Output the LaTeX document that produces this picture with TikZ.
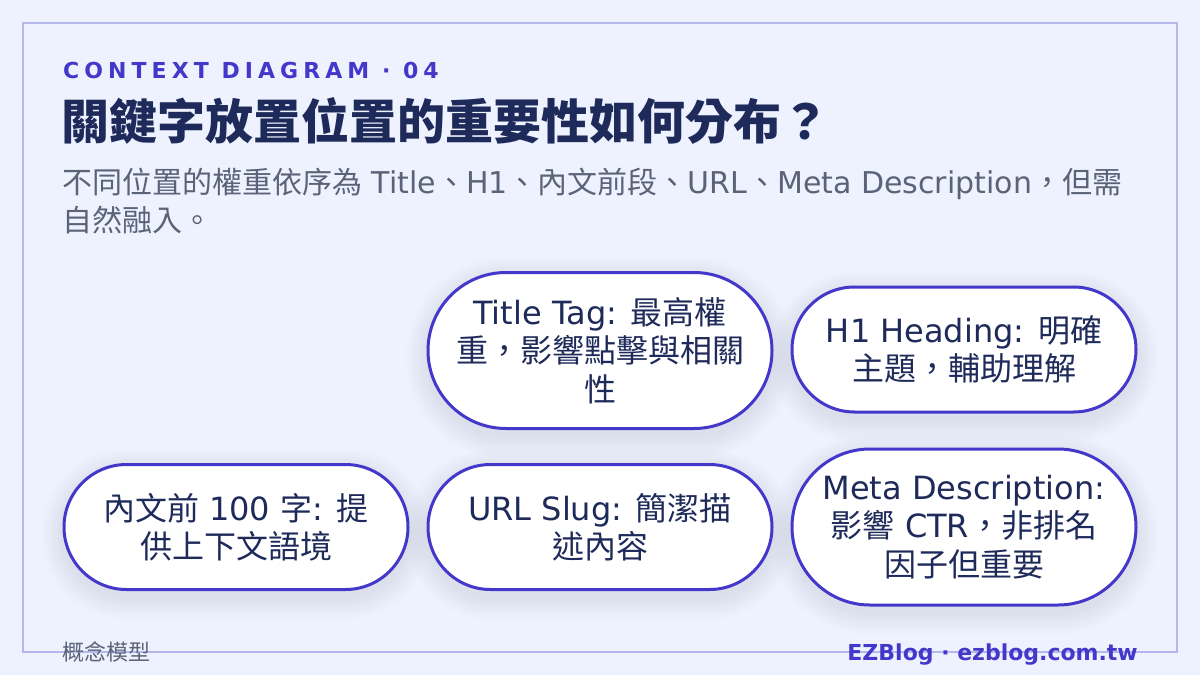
\documentclass[tikz,border=0pt]{standalone}
\usepackage{fontspec}
\usepackage{tikz}
\setmainfont{DejaVu Sans}
\newfontfamily\zhfont{Noto Sans CJK TC}
\newcommand\zh[1]{{\zhfont #1}}
\definecolor{pagebg}{HTML}{EEF2FE}
\definecolor{framec}{HTML}{B4B7EC}
\definecolor{indigo}{HTML}{4338CA}
\definecolor{navy}{HTML}{1E2A5A}
\definecolor{slatec}{HTML}{5A6378}
% soft shadow under a pill: centre x, centre y, width, height
\newcommand\pillglow[4]{%
	\foreach \g in {1,...,9}{
		\pgfmathsetmacro\gr{#4/2+\g*2.5}
		\fill[navy,opacity=0.009,rounded corners=\gr pt] (#1-#3/2-\g*2.5,#2-#4/2-\g*2.5+7) rectangle (#1+#3/2+\g*2.5,#2+#4/2+\g*2.5+7);
	}}

\begin{document}
\begin{tikzpicture}[x=1pt,y=-1pt,
		pill/.style={draw=indigo,line width=3pt,fill=white,text=navy,align=center,
			inner sep=0pt,minimum width=344pt,minimum height=125pt,rounded corners=62.5pt,
			font=\fontsize{32}{38.4}\selectfont},
		tallpill/.style={pill,minimum height=156pt,rounded corners=78pt}]
		\useasboundingbox (0,0) rectangle (1200,675);
		\fill[pagebg] (0,0) rectangle (1200,675);
		\draw[framec,line width=2pt] (23,23) rectangle (1177,652);
		
		\node[anchor=base west,inner sep=0pt,text=indigo,font=\bfseries\fontsize{22}{26}\selectfont\addfontfeature{LetterSpace=23}] (kicker) at (63,78) {CONTEXT DIAGRAM · 04};
		\node[anchor=base west,inner sep=0pt,text=navy,font=\bfseries\zhfont\fontsize{48}{56}\selectfont] (title) at (61,139) {關鍵字放置位置的重要性如何分布？};
		\node[anchor=base west,inner sep=0pt,text=slatec,font=\fontsize{30}{37.5}\selectfont] (sub1) at (62,193) {\zh{不同位置的權重依序為} Title\zh{、}H1\zh{、內文前段、}URL\zh{、}Meta Description\zh{，但需}};
		\node[anchor=base west,inner sep=0pt,text=slatec,font=\fontsize{30}{37.5}\selectfont] (sub2) at (62,231) {\zh{自然融入。}};
		
		\pillglow{600}{350.5}{344}{156}
		\pillglow{964}{349.5}{344}{125}
		\pillglow{236}{527}{344}{125}
		\pillglow{600}{527}{344}{125}
		\pillglow{964}{527}{344}{156}
		\node[tallpill] (titletag) at (600,350.5) {Title Tag: \zh{最高權}\\\zh{重，影響點擊與相關}\\\zh{性}};
		\node[pill] (h1) at (964,349.5) {H1 Heading: \zh{明確}\\\zh{主題，輔助理解}};
		\node[pill] (body) at (236,527) {\zh{內文前} 100 \zh{字}: \zh{提}\\\zh{供上下文語境}};
		\node[pill] (slug) at (600,527) {URL Slug: \zh{簡潔描}\\\zh{述內容}};
		\node[tallpill] (meta) at (964,527) {Meta Description:\\\zh{影響} CTR\zh{，非排名}\\\zh{因子但重要}};
		
		\node[anchor=base west,inner sep=0pt,text=slatec,font=\zhfont\fontsize{22}{26}\selectfont] (kind) at (62,660) {概念模型};
		\node[anchor=base east,inner sep=0pt,text=indigo,font=\bfseries\fontsize{22}{26}\selectfont] (brand) at (1138,660) {EZBlog · ezblog.com.tw};
\end{tikzpicture}
\end{document}
